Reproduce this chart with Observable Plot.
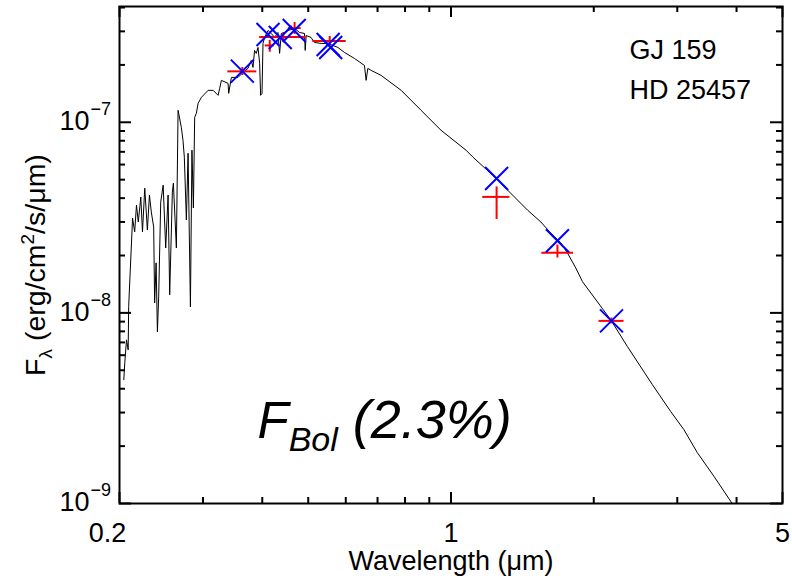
<!DOCTYPE html>
<html><head><meta charset="utf-8">
<script src="https://cdn.jsdelivr.net/npm/d3@7"></script>
<script src="https://cdn.jsdelivr.net/npm/@observablehq/plot@0.6"></script>
<style>
body{margin:0;background:#fff}
#chart svg{font-family:"Liberation Sans",Arial,Helvetica,sans-serif}
</style>
</head><body><div id="chart"></div>
<script>
// Model spectrum (wavelength in micron, F_lambda in erg/cm2/s/micron)
const specWave = [0.2042,0.2052,0.2069,0.2086,0.2091,0.2131,0.2153,0.2172,0.2191,0.2218,0.2236,0.2261,0.2290,0.2313,0.2334,0.2361,0.2372,0.2389,0.2404,0.2419,0.2443,0.2472,0.2503,0.2532,0.2552,0.2585,0.2598,0.2636,0.2658,0.2700,0.2722,0.2740,0.2767,0.2790,0.2822,0.2843,0.2863,0.2881,0.2905,0.2929,0.2977,0.3075,0.3151,0.3228,0.3253,0.3280,0.3388,0.3398,0.3443,0.3556,0.3643,0.3732,0.3792,0.3824,0.3853,0.3885,0.3918,0.3949,0.3968,0.3995,0.4014,0.4046,0.4113,0.4179,0.4246,0.4317,0.4351,0.4387,0.4458,0.4532,0.4679,0.4793,0.4910,0.4927,0.4951,0.5069,0.5151,0.5325,0.5500,0.5774,0.5961,0.6257,0.6568,0.6623,0.6678,0.6786,0.7123,0.7851,0.8646,0.9528,1.0757,1.1112,1.1736,1.2437,1.3160,1.4503,1.5467,1.6236,1.7043,1.7604,1.8329,1.8935,2.1721,2.3547,2.6587,2.9048,3.0984,3.3057,3.5834,3.8856,4.08];
const specFlux = [4.46e-9,5.47e-9,7.22e-9,6.40e-9,1.079e-8,3.14e-8,2.66e-8,3.68e-8,3.00e-8,4.05e-8,2.66e-8,4.51e-8,2.72e-8,4.15e-8,3.38e-8,2.82e-8,1.128e-8,1.83e-8,7.95e-9,1.213e-8,3.81e-8,4.68e-8,2.19e-8,4.15e-8,1.243e-8,4.30e-8,4.79e-8,2.19e-8,1.156e-7,9.41e-8,8.05e-8,6.56e-8,3.07e-8,6.88e-8,1.075e-8,7.14e-8,3.55e-8,1.062e-7,1.115e-7,1.257e-7,1.352e-7,1.471e-7,1.471e-7,1.385e-7,1.507e-7,1.660e-7,1.600e-7,1.419e-7,1.720e-7,1.720e-7,1.827e-7,1.918e-7,2.111e-7,1.941e-7,2.383e-7,2.298e-7,2.470e-7,2.037e-7,1.385e-7,1.419e-7,2.592e-7,2.786e-7,3.031e-7,2.924e-7,2.786e-7,2.960e-7,2.298e-7,2.924e-7,2.960e-7,3.031e-7,3.105e-7,2.960e-7,2.924e-7,2.383e-7,2.854e-7,2.786e-7,2.624e-7,2.592e-7,2.592e-7,2.470e-7,2.325e-7,2.163e-7,1.988e-7,1.660e-7,1.918e-7,1.872e-7,1.762e-7,1.471e-7,1.156e-7,9.08e-8,7.14e-8,6.58e-8,5.81e-8,5.09e-8,4.41e-8,3.46e-8,3.00e-8,2.62e-8,2.33e-8,2.06e-8,1.72e-8,1.458e-8,9.19e-9,6.66e-9,4.20e-9,3.04e-9,2.44e-9,1.85e-9,1.39e-9,1.03e-9,8.45e-10];

// Observed photometry (red): central wavelength, filter width, flux and error range
const photWave   = [0.3631,0.4148,0.4429,0.4680,0.5549,1.2478,1.6767,2.1795];
const photWaveLo = [0.3384,0.4058,0.3949,0.4539,0.5112,1.1666,1.5542,2.0517];
const photWaveHi = [0.3895,0.4241,0.4951,0.4832,0.6012,1.3310,1.8131,2.3170];
const photFlux   = [1.85e-7,2.53e-7,2.80e-7,3.12e-7,2.67e-7,4.06e-8,2.07e-8,9.08e-9];
const photFluxLo = [1.76e-7,2.33e-7,2.66e-7,2.89e-7,2.53e-7,3.09e-8,1.94e-8,8.75e-9];
const photFluxHi = [1.94e-7,2.69e-7,2.94e-7,3.34e-7,2.82e-7,4.58e-8,2.27e-8,9.40e-9];

// Synthetic photometry (blue)
const synthWave = [0.3631,0.4113,0.4365,0.4671,0.5508,0.5576,1.2478,1.6767,2.1795];
const synthFlux = [1.856e-7,2.888e-7,2.786e-7,3.031e-7,2.561e-7,2.47e-7,5.07e-8,2.39e-8,9.08e-9];

// Axes
const xDomain = [0.2, 5];
const yDomain = [1e-9, 4.05e-7];
const xMajorTicks = [0.2, 1, 5];
const xTickLabels = ["0.2", "1", "5"];
const xMinorTicks = [0.3,0.4,0.5,0.6,0.7,0.8,0.9,2,3,4];
const yMajorTicks = [1e-9, 1e-8, 1e-7];
const yTickExponents = ["\u22129", "\u22128", "\u22127"];
const yMinorTicks = [2e-9,3e-9,4e-9,5e-9,6e-9,7e-9,8e-9,9e-9,2e-8,3e-8,4e-8,5e-8,6e-8,7e-8,8e-8,9e-8,2e-7,3e-7,4e-7];
const starNames = ["GJ 159", "HD 25457"];
const xLabel = "Wavelength (\u03bcm)";
const fbolPercent = "2.3%";

const spectrum = specWave.map((w, i) => ({w, f: specFlux[i]}));
const phot = photWave.map((w, i) => ({w, wlo: photWaveLo[i], whi: photWaveHi[i], f: photFlux[i], flo: photFluxLo[i], fhi: photFluxHi[i]}));
const synth = synthWave.map((w, i) => ({w, f: synthFlux[i]}));

const W = 792, H = 580, mL = 119, mR = 10, mT = 6, mB = 77;
const iW = W - mL - mR, iH = H - mT - mB;
const FS = 27;

const chart = Plot.plot({
  width: W, height: H,
  marginLeft: mL, marginRight: mR, marginTop: mT, marginBottom: mB,
  x: {type: "log", domain: xDomain, axis: null},
  y: {type: "log", domain: yDomain, axis: null},
  style: {background: "white", fontFamily: "Liberation Sans, Arial, sans-serif"},
  marks: [
    Plot.line(spectrum, {x: "w", y: "f", stroke: "black", strokeWidth: 1, clip: true}),
    Plot.ruleY(phot, {x1: "wlo", x2: "whi", y: "f", stroke: "#ff0000", strokeWidth: 2}),
    Plot.ruleX(phot, {x: "w", y1: "flo", y2: "fhi", stroke: "#ff0000", strokeWidth: 2}),
    Plot.dot(synth, {x: "w", y: "f", symbol: "times", r: 10.5, stroke: "#0000ff", strokeWidth: 2}),
    // inward ticks, all four sides
    Plot.tickX(xMajorTicks, {x: d => d, insetTop: iH - 11, stroke: "black", strokeWidth: 2}),
    Plot.tickX(xMinorTicks, {x: d => d, insetTop: iH - 6, stroke: "black", strokeWidth: 2}),
    Plot.tickX(xMajorTicks, {x: d => d, insetBottom: iH - 11, stroke: "black", strokeWidth: 2}),
    Plot.tickX(xMinorTicks, {x: d => d, insetBottom: iH - 6, stroke: "black", strokeWidth: 2}),
    Plot.tickY(yMajorTicks, {y: d => d, insetRight: iW - 12, stroke: "black", strokeWidth: 2}),
    Plot.tickY(yMinorTicks, {y: d => d, insetRight: iW - 6, stroke: "black", strokeWidth: 2}),
    Plot.tickY(yMajorTicks, {y: d => d, insetLeft: iW - 12, stroke: "black", strokeWidth: 2}),
    Plot.tickY(yMinorTicks, {y: d => d, insetLeft: iW - 6, stroke: "black", strokeWidth: 2}),
    Plot.frame({stroke: "black", strokeWidth: 2}),
    // x tick labels (baseline below the frame)
    Plot.text(xMajorTicks.slice(0, 1), {x: d => d, frameAnchor: "bottom", lineAnchor: "bottom", text: (d, i) => xTickLabels[i], dy: 38, dx: -12, fontSize: FS}),
    Plot.text(xMajorTicks.slice(1), {x: d => d, frameAnchor: "bottom", lineAnchor: "bottom", text: (d, i) => xTickLabels[i + 1], dy: 38, fontSize: FS}),
    // y tick labels: "10" plus superscript exponent
    Plot.text(yMajorTicks, {y: d => d, frameAnchor: "left", text: () => "10", textAnchor: "end", dx: -30, dy: -1, fontSize: FS}),
    Plot.text(yMajorTicks, {y: d => d, frameAnchor: "left", text: (d, i) => yTickExponents[i], textAnchor: "start", dx: -29, dy: -13, fontSize: 18}),
    // axis labels
    Plot.text([xLabel], {frameAnchor: "bottom", lineAnchor: "bottom", text: d => d, dy: 66, fontSize: FS}),
    Plot.text(["@YLABEL@"], {frameAnchor: "left", textAnchor: "middle", lineAnchor: "middle", text: d => d, rotate: -90, dx: -84, dy: 10, fontSize: 28.5}),
    // star names
    Plot.text([starNames.join("\n")], {frameAnchor: "top-left", text: d => d, textAnchor: "start", lineAnchor: "top", dx: 510, dy: 25, lineHeight: 1.46, fontSize: FS}),
    // F_Bol annotation
    Plot.text(["@FBOL@"], {frameAnchor: "bottom-left", text: d => d, textAnchor: "start", lineAnchor: "bottom", dx: 138, dy: -66, fontSize: 51, fontStyle: "italic"})
  ]
});

document.getElementById("chart").appendChild(chart);

function findText(s) {
  return d3.select(chart).selectAll("text").filter(function() { return this.textContent === s; });
}

// y-axis label with sub/superscripts
const yl = findText("@YLABEL@");
yl.text(null);
yl.append("tspan").text("F");
yl.append("tspan").attr("font-size", 19).attr("dy", 7).text("\u03bb");
yl.append("tspan").attr("dy", -7).text(" (erg/cm");
yl.append("tspan").attr("font-size", 19).attr("dy", -11).text("2");
yl.append("tspan").attr("dy", 11).text("/s/\u03bcm)");

// F_Bol annotation with subscript
const fb = findText("@FBOL@");
fb.text(null);
fb.append("tspan").text("F");
fb.append("tspan").attr("font-size", 34).attr("dy", 13).text("Bol");
fb.append("tspan").attr("dy", -13).attr("font-size", 54).text(" (" + fbolPercent + ")");
</script>
</body></html>
